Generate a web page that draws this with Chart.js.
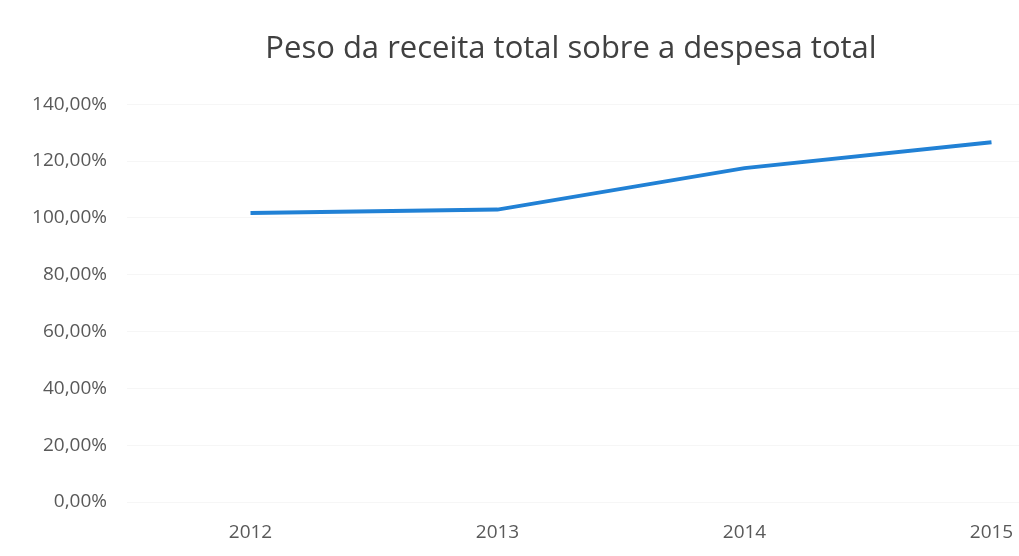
<!DOCTYPE html>
<html lang="pt">
<head>
  <meta charset="UTF-8" />
  <title>Peso da receita total sobre a despesa total</title>
  <script src="https://cdn.jsdelivr.net/npm/chart.js"></script>
  <style>
    html, body {
      margin: 0;
      padding: 0;
      background: #fff;
      overflow: hidden;
    }
    .wrap {
      width: 1019px;
      height: 556px;
      overflow: hidden;
    }
  </style>
</head>
<body>
  <div class="wrap">
    <canvas id="chart" width="1150" height="556"></canvas>
  </div>

  <script>
    // values
    const years = ["2012", "2013", "2014", "2015"];
    const peso = [101.7, 102.9, 117.5, 126.6];
    const yTicks = [0, 20, 40, 60, 80, 100, 120, 140];

    function pct(v) {
      return v.toFixed(2).replace(".", ",") + "%";
    }

    const ctx = document.getElementById("chart").getContext("2d");
    new Chart(ctx, {
      type: "line",
      data: {
        labels: years,
        datasets: [{
          label: "Peso",
          data: peso,
          borderColor: "#2181d5",
          borderWidth: 4,
          pointRadius: 0,
          tension: 0,
          fill: false
        }]
      },
      options: {
        responsive: false,
        animation: false,
        layout: {
          padding: { left: 27, right: 35, top: 31, bottom: 0 }
        },
        plugins: {
          legend: { display: false },
          tooltip: { enabled: false },
          title: {
            display: true,
            text: "Peso da receita total sobre a despesa total",
            color: "#404040",
            font: { family: "Open Sans", size: 31, weight: "normal" },
            padding: { top: 0, bottom: 36 }
          }
        },
        scales: {
          x: {
            offset: true,
            grid: { display: false, drawTicks: false },
            border: { display: false },
            ticks: {
              color: "#595959",
              font: { family: "Open Sans", size: 19 },
              padding: 19
            },
            afterFit: (s) => { s.height = 54; }
          },
          y: {
            min: 0,
            max: 140,
            afterBuildTicks: (s) => { s.ticks = yTicks.map(v => ({ value: v })); },
            grid: { color: "#f6f6f6", drawTicks: false },
            border: { display: false },
            ticks: {
              color: "#595959",
              font: { family: "Open Sans", size: 19 },
              padding: 20,
              callback: (v) => pct(v)
            },
            afterFit: (s) => { s.width = 100; }
          }
        }
      }
    });
  </script>
</body>
</html>
